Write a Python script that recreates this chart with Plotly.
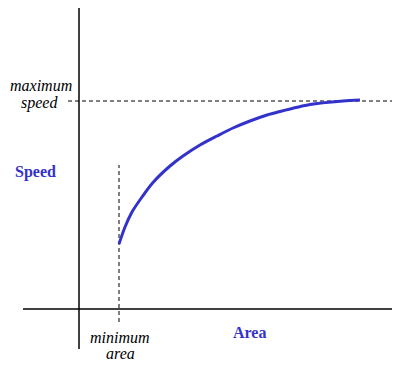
import plotly.graph_objects as go

# curve data (area vs speed), origin at the axis crossing
area = [40, 46, 53, 63, 74, 91, 104, 121, 138, 154, 171, 188, 199, 231, 264, 281]
speed = [65, 82, 97, 112, 126.5, 143, 153, 164, 173, 181, 188, 194, 197, 204.5, 208, 209]

max_speed = 208
min_area = 40

# axis extents
x_axis_span = [-56, 315]
y_axis_span = [-40, 304]
max_dash_span = [-11, 316]
min_dash_span = [-13, 144]

blue = "#3333CC"
serif = "Liberation Serif"

fig = go.Figure()

# axes
fig.add_trace(go.Scatter(x=x_axis_span, y=[0, 0], mode="lines",
                         line=dict(color="black", width=1.5), hoverinfo="skip"))
fig.add_trace(go.Scatter(x=[0, 0], y=y_axis_span, mode="lines",
                         line=dict(color="black", width=1.5), hoverinfo="skip"))
# dashed guides
fig.add_trace(go.Scatter(x=max_dash_span, y=[max_speed, max_speed], mode="lines",
                         line=dict(color="black", width=1, dash="4px,3px"), hoverinfo="skip"))
fig.add_trace(go.Scatter(x=[min_area, min_area], y=min_dash_span, mode="lines",
                         line=dict(color="black", width=1, dash="4px,3px"), hoverinfo="skip"))
# curve
fig.add_trace(go.Scatter(x=area, y=speed, mode="lines",
                         line=dict(color=blue, width=3, shape="spline", smoothing=0.8),
                         hoverinfo="skip"))

italic = dict(family=serif, size=16, color="black", style="italic")
bold = dict(family=serif, size=16, color=blue, weight="bold")

ann = [
    ("maximum", -38, 224, italic),
    ("speed", -40, 206, italic),
    ("Speed", -44, 137, bold),
    ("minimum", 41, -28, italic),
    ("area", 41, -44, italic),
    ("Area", 170, -23, bold),
]
for t, x, y, f in ann:
    fig.add_annotation(x=x, y=y, text=t, showarrow=False, font=f,
                       xanchor="center", yanchor="middle")

fig.update_layout(
    width=400, height=372,
    margin=dict(l=0, r=0, t=0, b=0),
    paper_bgcolor="white", plot_bgcolor="white",
    showlegend=False,
    xaxis=dict(range=[-71, 329], visible=False, fixedrange=True),
    yaxis=dict(range=[-71, 301], visible=False, fixedrange=True),
)

fig.write_html("out.html", config={"displayModeBar": False})
